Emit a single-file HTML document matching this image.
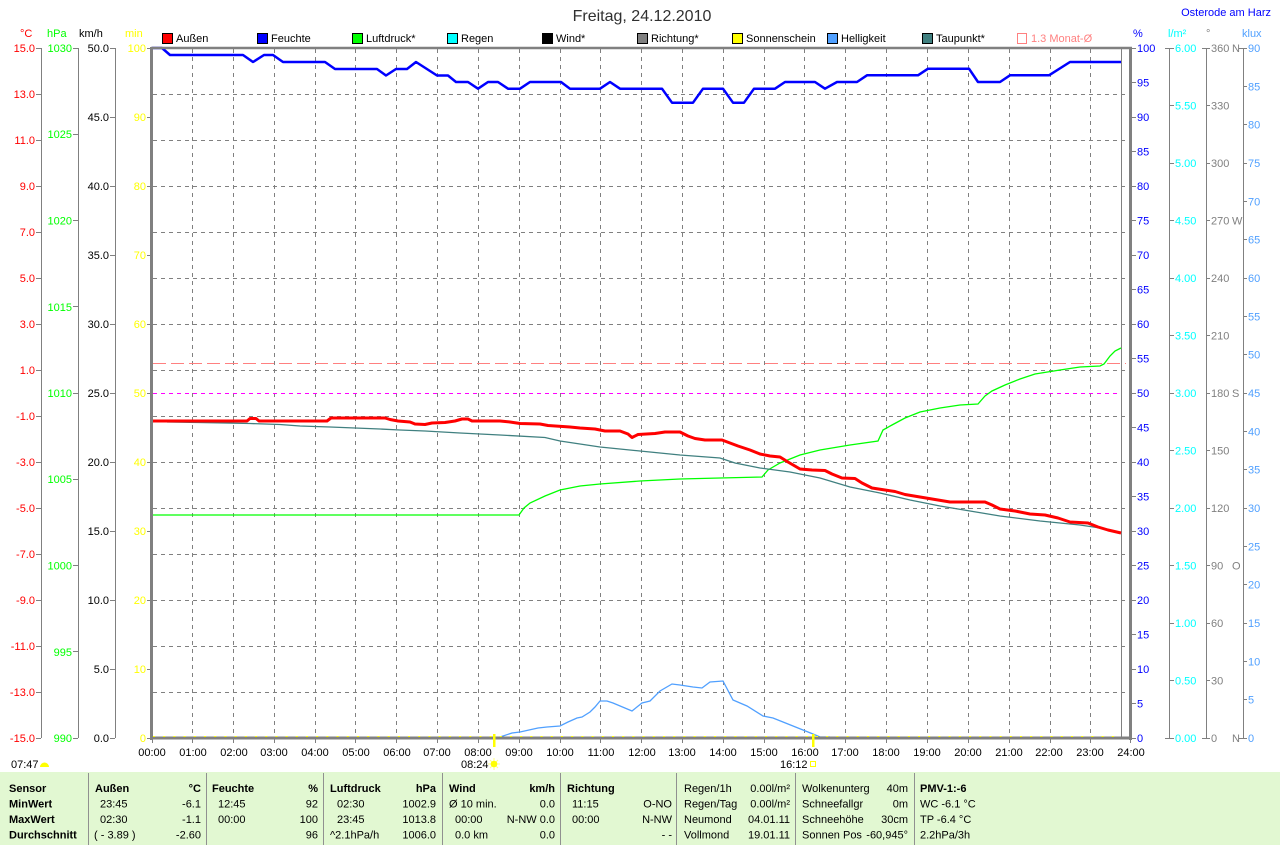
<!DOCTYPE html>
<html><head><meta charset="utf-8">
<style>
html,body{margin:0;padding:0;background:#fff;}
svg{display:block;font-family:"Liberation Sans",Arial,sans-serif;}
</style></head>
<body>
<svg width="1280" height="845" viewBox="0 0 1280 845" xmlns="http://www.w3.org/2000/svg">
<rect width="1280" height="845" fill="#fff"/>

<!-- Title -->
<text x="642" y="21" font-size="16" fill="#303030" text-anchor="middle">Freitag, 24.12.2010</text>
<text x="1271" y="16" font-size="11" fill="#0000ff" text-anchor="end">Osterode am Harz</text>

<!-- Axis titles -->
<g font-size="11">
<text x="20" y="37" fill="#ff0000">°C</text>
<text x="47" y="37" fill="#00ff00">hPa</text>
<text x="79" y="37" fill="#000">km/h</text>
<text x="125" y="37" fill="#ffff00">min</text>
<text x="1133" y="37" fill="#0000ff">%</text>
<text x="1168" y="37" fill="#00ffff">l/m²</text>
<text x="1206" y="37" fill="#808080">°</text>
<text x="1242" y="37" fill="#50a0ff">klux</text>
</g>

<!-- Legend -->
<g font-size="11" fill="#000">
<rect x="162.5" y="33.5" width="10" height="10" fill="#ff0000" stroke="#000"/><text x="176" y="42">Außen</text>
<rect x="257.5" y="33.5" width="10" height="10" fill="#0000ff" stroke="#000"/><text x="271" y="42">Feuchte</text>
<rect x="352.5" y="33.5" width="10" height="10" fill="#00ff00" stroke="#000"/><text x="366" y="42">Luftdruck*</text>
<rect x="447.5" y="33.5" width="10" height="10" fill="#00ffff" stroke="#000"/><text x="461" y="42">Regen</text>
<rect x="542.5" y="33.5" width="10" height="10" fill="#000000" stroke="#000"/><text x="556" y="42">Wind*</text>
<rect x="637.5" y="33.5" width="10" height="10" fill="#808080" stroke="#000"/><text x="651" y="42">Richtung*</text>
<rect x="732.5" y="33.5" width="10" height="10" fill="#ffff00" stroke="#000"/><text x="746" y="42">Sonnenschein</text>
<rect x="827.5" y="33.5" width="10" height="10" fill="#50a0ff" stroke="#000"/><text x="841" y="42">Helligkeit</text>
<rect x="922.5" y="33.5" width="10" height="10" fill="#408080" stroke="#000"/><text x="936" y="42">Taupunkt*</text>
<rect x="1017.5" y="33.5" width="9" height="10" fill="none" stroke="#ff8080"/><text x="1031" y="42" fill="#ff8080">1.3 Monat-Ø</text>
</g>

<!-- Grid -->
<path fill="none" stroke="#808080" stroke-width="1" stroke-dasharray="4 4" d="
M192.5 49V737 M233.5 49V737 M274.5 49V737 M315.5 49V737 M355.5 49V737 M396.5 49V737 M437.5 49V737 M478.5 49V737 M519.5 49V737 M560.5 49V737 M600.5 49V737 M641.5 49V737 M682.5 49V737 M723.5 49V737 M764.5 49V737 M804.5 49V737 M845.5 49V737 M886.5 49V737 M927.5 49V737 M968.5 49V737 M1009.5 49V737 M1050.5 49V737 M1090.5 49V737
M153 94.5H1130 M153 140.5H1130 M153 186.5H1130 M153 232.5H1130 M153 278.5H1130 M153 324.5H1130 M153 370.5H1130 M153 416.5H1130 M153 462.5H1130 M153 508.5H1130 M153 554.5H1130 M153 600.5H1130 M153 646.5H1130 M153 692.5H1130"/>

<!-- reference lines -->
<path d="M153 363.5H1126" stroke="#ff8080" stroke-width="1" stroke-dasharray="13 5" fill="none"/>
<path d="M153 393.5H1121" stroke="#ff00ff" stroke-width="1" stroke-dasharray="4 4" fill="none"/>

<!-- current time line -->
<path d="M1121.5 49V737" stroke="#808080" stroke-width="1"/>

<!-- Left axes lines & ticks -->
<g stroke="#808080" stroke-width="1" fill="none">
<path d="M41.5 48V738 M78.5 48V738 M115.5 48V738"/>
<path d="M36 48.5H41 M36 94.5H41 M36 140.5H41 M36 186.5H41 M36 232.5H41 M36 278.5H41 M36 324.5H41 M36 370.5H41 M36 416.5H41 M36 462.5H41 M36 508.5H41 M36 554.5H41 M36 600.5H41 M36 646.5H41 M36 692.5H41 M36 738.5H41"/>
<path d="M73 48.5H78 M73 134.5H78 M73 220.5H78 M73 306.5H78 M73 393.5H78 M73 479.5H78 M73 565.5H78 M73 651.5H78 M73 738.5H78"/>
<path d="M110 48.5H115 M110 117.5H115 M110 186.5H115 M110 255.5H115 M110 324.5H115 M110 393.5H115 M110 462.5H115 M110 531.5H115 M110 600.5H115 M110 669.5H115 M110 738.5H115"/>
<path d="M147 48.5H152 M147 117.5H152 M147 186.5H152 M147 255.5H152 M147 324.5H152 M147 393.5H152 M147 462.5H152 M147 531.5H152 M147 600.5H152 M147 669.5H152 M147 738.5H152"/>
</g>

<!-- Left labels -->
<g font-size="11" text-anchor="end">
<g fill="#ff0000">
<text x="35" y="52">15.0</text><text x="35" y="98">13.0</text><text x="35" y="144">11.0</text><text x="35" y="190">9.0</text><text x="35" y="236">7.0</text><text x="35" y="282">5.0</text><text x="35" y="328">3.0</text><text x="35" y="374">1.0</text><text x="35" y="420">-1.0</text><text x="35" y="466">-3.0</text><text x="35" y="512">-5.0</text><text x="35" y="558">-7.0</text><text x="35" y="604">-9.0</text><text x="35" y="650">-11.0</text><text x="35" y="696">-13.0</text><text x="35" y="742">-15.0</text>
</g>
<g fill="#00ff00">
<text x="72" y="52">1030</text><text x="72" y="138">1025</text><text x="72" y="224.5">1020</text><text x="72" y="311">1015</text><text x="72" y="397">1010</text><text x="72" y="483">1005</text><text x="72" y="569.5">1000</text><text x="72" y="656">995</text><text x="72" y="742">990</text>
</g>
<g fill="#000">
<text x="109" y="52">50.0</text><text x="109" y="121">45.0</text><text x="109" y="190">40.0</text><text x="109" y="259">35.0</text><text x="109" y="328">30.0</text><text x="109" y="397">25.0</text><text x="109" y="466">20.0</text><text x="109" y="535">15.0</text><text x="109" y="604">10.0</text><text x="109" y="673">5.0</text><text x="109" y="742">0.0</text>
</g>
<g fill="#ffff00">
<text x="146" y="52">100</text><text x="146" y="121">90</text><text x="146" y="190">80</text><text x="146" y="259">70</text><text x="146" y="328">60</text><text x="146" y="397">50</text><text x="146" y="466">40</text><text x="146" y="535">30</text><text x="146" y="604">20</text><text x="146" y="673">10</text><text x="146" y="742">0</text>
</g>
</g>

<!-- Right axes lines & ticks -->
<g stroke="#808080" stroke-width="1" fill="none">
<path d="M1169.5 48V738 M1206.5 48V738 M1243.5 48V738"/>
<path d="M1132 48.5H1136 M1132 82.5H1136 M1132 117.5H1136 M1132 151.5H1136 M1132 186.5H1136 M1132 220.5H1136 M1132 255.5H1136 M1132 289.5H1136 M1132 324.5H1136 M1132 358.5H1136 M1132 393.5H1136 M1132 427.5H1136 M1132 462.5H1136 M1132 496.5H1136 M1132 531.5H1136 M1132 565.5H1136 M1132 600.5H1136 M1132 634.5H1136 M1132 669.5H1136 M1132 703.5H1136 M1132 738.5H1136"/>
<path d="M1165 48.5H1174 M1169 105.5H1174 M1169 163.5H1174 M1169 220.5H1174 M1169 278.5H1174 M1169 335.5H1174 M1169 393.5H1174 M1169 450.5H1174 M1169 508.5H1174 M1169 565.5H1174 M1169 623.5H1174 M1169 680.5H1174 M1165 738.5H1174"/>
<path d="M1202 48.5H1210 M1206 105.5H1210 M1206 163.5H1210 M1206 220.5H1210 M1206 278.5H1210 M1206 335.5H1210 M1206 393.5H1210 M1206 450.5H1210 M1206 508.5H1210 M1206 565.5H1210 M1206 623.5H1210 M1206 680.5H1210 M1202 738.5H1210"/>
<path d="M1239 48.5H1247 M1243 86.5H1247 M1243 124.5H1247 M1243 163.5H1247 M1243 201.5H1247 M1243 239.5H1247 M1243 278.5H1247 M1243 316.5H1247 M1243 354.5H1247 M1243 393.5H1247 M1243 431.5H1247 M1243 469.5H1247 M1243 508.5H1247 M1243 546.5H1247 M1243 584.5H1247 M1243 623.5H1247 M1243 661.5H1247 M1243 699.5H1247 M1239 738.5H1247"/>
</g>

<!-- Right labels -->
<g font-size="11">
<g fill="#0000ff">
<text x="1137" y="52">100</text><text x="1137" y="86.5">95</text><text x="1137" y="121">90</text><text x="1137" y="155.5">85</text><text x="1137" y="190">80</text><text x="1137" y="224.5">75</text><text x="1137" y="259">70</text><text x="1137" y="293.5">65</text><text x="1137" y="328">60</text><text x="1137" y="362.5">55</text><text x="1137" y="397">50</text><text x="1137" y="431.5">45</text><text x="1137" y="466">40</text><text x="1137" y="500.5">35</text><text x="1137" y="535">30</text><text x="1137" y="569.5">25</text><text x="1137" y="604">20</text><text x="1137" y="638.5">15</text><text x="1137" y="673">10</text><text x="1137" y="707.5">5</text><text x="1137" y="742">0</text>
</g>
<g fill="#00ffff">
<text x="1175" y="52">6.00</text><text x="1175" y="109.5">5.50</text><text x="1175" y="167">5.00</text><text x="1175" y="224.5">4.50</text><text x="1175" y="282">4.00</text><text x="1175" y="339.5">3.50</text><text x="1175" y="397">3.00</text><text x="1175" y="454.5">2.50</text><text x="1175" y="512">2.00</text><text x="1175" y="569.5">1.50</text><text x="1175" y="627">1.00</text><text x="1175" y="684.5">0.50</text><text x="1175" y="742">0.00</text>
</g>
<g fill="#808080">
<text x="1211" y="52">360</text><text x="1211" y="109.5">330</text><text x="1211" y="167">300</text><text x="1211" y="224.5">270</text><text x="1211" y="282">240</text><text x="1211" y="339.5">210</text><text x="1211" y="397">180</text><text x="1211" y="454.5">150</text><text x="1211" y="512">120</text><text x="1211" y="569.5">90</text><text x="1211" y="627">60</text><text x="1211" y="684.5">30</text><text x="1211" y="742">0</text>
<text x="1232" y="52">N</text><text x="1232" y="224.5">W</text><text x="1232" y="397">S</text><text x="1232" y="569.5">O</text><text x="1232" y="742">N</text>
</g>
<g fill="#50a0ff">
<text x="1248" y="52">90</text><text x="1248" y="90.3">85</text><text x="1248" y="128.7">80</text><text x="1248" y="167">75</text><text x="1248" y="205.3">70</text><text x="1248" y="243.7">65</text><text x="1248" y="282">60</text><text x="1248" y="320.3">55</text><text x="1248" y="358.7">50</text><text x="1248" y="397">45</text><text x="1248" y="435.3">40</text><text x="1248" y="473.7">35</text><text x="1248" y="512">30</text><text x="1248" y="550.3">25</text><text x="1248" y="588.7">20</text><text x="1248" y="627">15</text><text x="1248" y="665.3">10</text><text x="1248" y="703.7">5</text><text x="1248" y="742">0</text>
</g>
</g>

<!-- Series -->
<!-- Helligkeit -->
<path fill="none" stroke="#50a0ff" stroke-width="1.3" d="M494 738 L500 737 L512 733 L520 732 L538 728 L547 727 L560 726 L568 722 L577 718 L582 717 L590 712 L595 707 L600 701 L607 701 L613 703 L632 711 L642 703 L650 701 L660 691 L672 684 L680 685 L693 687 L702 688 L710 682 L723 681 L733 700 L747 706 L763 716 L773 718 L783 722 L803 730 L813 734 L820 737 L830 737"/>
<!-- Luftdruck -->
<path fill="none" stroke="#00ff00" stroke-width="1.3" d="M152 515 L519 515 L524 508 L530 503 L545 496 L560 490 L580 486 L600 484 L640 481 L680 479 L720 478 L762 477 L768 470 L780 463 L800 455 L820 450 L850 445 L878 441 L883 430 L892 425 L905 418 L920 412 L940 408 L960 405 L978 404 L985 396 L992 391 L1005 385 L1020 379 L1035 374 L1060 370 L1080 367 L1100 366 L1104 364 L1110 356 L1115 351 L1121 348"/>
<!-- Taupunkt -->
<path fill="none" stroke="#408080" stroke-width="1.3" d="M167 422 L198 422.5 L250 423.5 L280 424.5 L300 426 L330 427 L380 429 L400 430 L425 431 L460 433 L500 435 L545 437.5 L560 441 L600 447 L640 451 L680 455 L720 458 L735 463 L760 468 L790 472 L820 478 L850 487 L880 493 L910 500 L940 506 L970 511 L1000 516 L1040 521 L1080 525 L1100 528 L1121 533"/>
<!-- Außen -->
<path fill="none" stroke="#ff0000" stroke-width="3" stroke-linejoin="round" d="M152 421 L247 421 L250 418.5 L256 418.5 L259 421 L327 421 L331 418 L385 418 L390 419.5 L398 421 L410 422 L415 424 L425 424.5 L432 423 L445 422.5 L455 421 L462 419 L468 419 L472 421 L500 421 L510 422 L520 423.5 L540 424 L548 425.5 L570 427 L580 428 L595 429 L605 431 L620 431 L628 434 L632 437.5 L638 434.5 L655 433.5 L665 432 L680 432 L688 436 L695 438.5 L705 440 L722 440 L730 443 L738 446 L750 450 L760 454 L770 456 L780 457 L788 462 L800 469 L812 470 L825 470.5 L832 474 L842 478 L855 478.5 L862 483 L872 488 L885 490 L895 491.5 L905 494.5 L920 497 L935 499.5 L950 502 L985 502 L992 505 L1000 509 L1015 511 L1030 514 L1045 515 L1058 518 L1070 522 L1088 523 L1098 527 L1108 530 L1121 533"/>
<!-- Feuchte -->
<path fill="none" stroke="#0000ff" stroke-width="2.5" stroke-linejoin="round" d="M152 48 L162 48 L170 55 L243 55 L253 62 L264 55 L273 55 L283 62 L325 62 L335 69 L377 69 L386 75.5 L396 69 L407 69 L416 62 L437 75.5 L448 75.5 L456 82 L468 82 L478 88.7 L488 82 L498 82 L508 88.7 L520 88.7 L530 82 L561 82 L570 88.7 L600 88.7 L610 82 L620 88.7 L662 88.7 L672 102.7 L693 102.7 L703 88.7 L723 88.7 L733 102.7 L744 102.7 L754 88.7 L775 88.7 L785 82 L815 82 L825 88.7 L837 82 L857 82 L867 75.3 L918 75.3 L928 68.7 L969 68.7 L978 82 L1000 82 L1010 75.3 L1049 75.3 L1070 62 L1121 62"/>

<!-- Plot frame -->
<g stroke="#808080" fill="none">
<path d="M151 48H1132" stroke-width="2.5"/>
<path d="M151.5 47V740" stroke-width="3"/>
<path d="M1130.5 47V740" stroke-width="3"/>
<path d="M150 738H1132" stroke-width="3"/>
<path stroke-width="1" d="M152.5 739V743 M192.5 739V743 M233.5 739V743 M274.5 739V743 M315.5 739V743 M355.5 739V743 M396.5 739V743 M437.5 739V743 M478.5 739V743 M519.5 739V743 M560.5 739V743 M600.5 739V743 M641.5 739V743 M682.5 739V743 M723.5 739V743 M764.5 739V743 M804.5 739V743 M845.5 739V743 M886.5 739V743 M927.5 739V743 M968.5 739V743 M1009.5 739V743 M1050.5 739V743 M1090.5 739V743 M1130.5 739V743"/>
</g>

<!-- Sunshine dots -->
<path d="M153 736.5H1121" stroke="#ffff00" stroke-width="1" stroke-dasharray="2 8.2"/>
<rect x="493" y="734" width="2.5" height="13" fill="#ffff00"/>
<rect x="812" y="734" width="2.5" height="13" fill="#ffff00"/>

<!-- X labels -->
<g font-size="11" fill="#000" text-anchor="middle">
<text x="152" y="756">00:00</text><text x="193" y="756">01:00</text><text x="234" y="756">02:00</text><text x="274" y="756">03:00</text><text x="315" y="756">04:00</text><text x="356" y="756">05:00</text><text x="397" y="756">06:00</text><text x="437" y="756">07:00</text><text x="478" y="756">08:00</text><text x="519" y="756">09:00</text><text x="560" y="756">10:00</text><text x="601" y="756">11:00</text><text x="642" y="756">12:00</text><text x="682" y="756">13:00</text><text x="723" y="756">14:00</text><text x="764" y="756">15:00</text><text x="805" y="756">16:00</text><text x="845" y="756">17:00</text><text x="886" y="756">18:00</text><text x="927" y="756">19:00</text><text x="968" y="756">20:00</text><text x="1009" y="756">21:00</text><text x="1049" y="756">22:00</text><text x="1090" y="756">23:00</text><text x="1131" y="756">24:00</text>
</g>

<!-- Sun times -->
<g font-size="11" fill="#000">
<text x="11" y="768">07:47</text>
<text x="461" y="768">08:24</text>
<text x="780" y="768">16:12</text>
</g>
<path d="M40 767 A4.5 4.5 0 0 1 49 767 Z" fill="#ffff00"/>
<g stroke="#ffff80" stroke-width="1"><path d="M494 758V770 M488 764H500 M490 760L498 768 M498 760L490 768"/></g>
<circle cx="494" cy="764" r="3.3" fill="#ffff00"/>
<rect x="810.5" y="761.5" width="5" height="5" fill="none" stroke="#ffff00"/>

<!-- Table -->
<rect x="0" y="772" width="1280" height="73" fill="#e2f8d2"/>
<path stroke="#909090" stroke-width="1" d="M88.5 773V845 M206.5 773V845 M323.5 773V845 M442.5 773V845 M560.5 773V845 M676.5 773V845 M795.5 773V845 M914.5 773V845"/>
<g font-size="11" fill="#000">
<g font-weight="bold">
<text x="9" y="792">Sensor</text><text x="9" y="807.5">MinWert</text><text x="9" y="823">MaxWert</text><text x="9" y="838.5">Durchschnitt</text>
<text x="95" y="792">Außen</text><text x="201" y="792" text-anchor="end">°C</text>
<text x="212" y="792">Feuchte</text><text x="318" y="792" text-anchor="end">%</text>
<text x="330" y="792">Luftdruck</text><text x="436" y="792" text-anchor="end">hPa</text>
<text x="449" y="792">Wind</text><text x="555" y="792" text-anchor="end">km/h</text>
<text x="567" y="792">Richtung</text>
<text x="920" y="792">PMV-1:-6</text>
</g>
<text x="100" y="807.5">23:45</text><text x="201" y="807.5" text-anchor="end">-6.1</text>
<text x="100" y="823">02:30</text><text x="201" y="823" text-anchor="end">-1.1</text>
<text x="94" y="838.5">( - 3.89 )</text><text x="201" y="838.5" text-anchor="end">-2.60</text>

<text x="218" y="807.5">12:45</text><text x="318" y="807.5" text-anchor="end">92</text>
<text x="218" y="823">00:00</text><text x="318" y="823" text-anchor="end">100</text>
<text x="318" y="838.5" text-anchor="end">96</text>

<text x="337" y="807.5">02:30</text><text x="436" y="807.5" text-anchor="end">1002.9</text>
<text x="337" y="823">23:45</text><text x="436" y="823" text-anchor="end">1013.8</text>
<text x="330" y="838.5">^2.1hPa/h</text><text x="436" y="838.5" text-anchor="end">1006.0</text>

<text x="449" y="807.5">Ø 10 min.</text><text x="555" y="807.5" text-anchor="end">0.0</text>
<text x="455" y="823">00:00</text><text x="555" y="823" text-anchor="end">N-NW 0.0</text>
<text x="455" y="838.5">0.0 km</text><text x="555" y="838.5" text-anchor="end">0.0</text>

<text x="572" y="807.5">11:15</text><text x="672" y="807.5" text-anchor="end">O-NO</text>
<text x="572" y="823">00:00</text><text x="672" y="823" text-anchor="end">N-NW</text>
<text x="672" y="838.5" text-anchor="end">- -</text>

<text x="684" y="792">Regen/1h</text><text x="790" y="792" text-anchor="end">0.00l/m²</text>
<text x="684" y="807.5">Regen/Tag</text><text x="790" y="807.5" text-anchor="end">0.00l/m²</text>
<text x="684" y="823">Neumond</text><text x="790" y="823" text-anchor="end">04.01.11</text>
<text x="684" y="838.5">Vollmond</text><text x="790" y="838.5" text-anchor="end">19.01.11</text>

<text x="802" y="792">Wolkenunterg</text><text x="908" y="792" text-anchor="end">40m</text>
<text x="802" y="807.5">Schneefallgr</text><text x="908" y="807.5" text-anchor="end">0m</text>
<text x="802" y="823">Schneehöhe</text><text x="908" y="823" text-anchor="end">30cm</text>
<text x="802" y="838.5">Sonnen Pos</text><text x="908" y="838.5" text-anchor="end">-60,945°</text>

<text x="920" y="807.5">WC -6.1 °C</text>
<text x="920" y="823">TP -6.4 °C</text>
<text x="920" y="838.5">2.2hPa/3h</text>
</g>
</svg>
</body></html>
